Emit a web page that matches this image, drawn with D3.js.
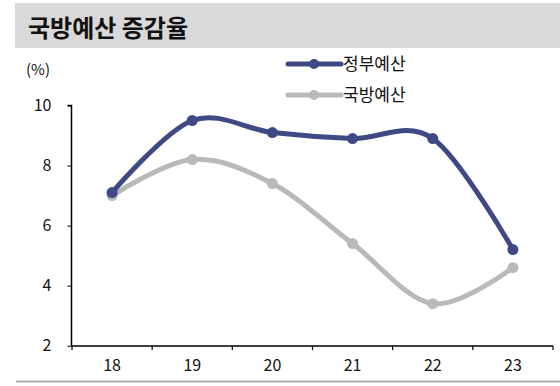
<!DOCTYPE html>
<html><head><meta charset="utf-8">
<script src="https://cdn.jsdelivr.net/npm/d3@7"></script>
<style>body{margin:0;background:#fff}svg{display:block}</style>
</head><body><svg id="c" width="560" height="386"></svg>
<script>
const years = ["18","19","20","21","22","23"];
const govBudget = [7.1, 9.5, 9.1, 8.9, 8.9, 5.2];
const defBudget = [7.0, 8.2, 7.4, 5.4, 3.4, 4.6];
const yTicks = [2,4,6,8,10];
const seriesNames = ["정부예산","국방예산"];
const colors = ["#3f4984","#b9b9b9"];

const svg = d3.select("#c");
const font = "'Noto Sans CJK KR', 'Noto Sans', sans-serif";

svg.append("rect").attr("x",15).attr("y",3).attr("width",545).attr("height",45).attr("fill","#d9d9d9");
svg.append("text").attr("x",28).attr("y",37).attr("font-family",font).attr("font-weight","bold")
  .attr("font-size",24).attr("fill","#111").text("국방예산 증감율");
svg.append("line").attr("x1",16).attr("x2",560).attr("y1",381.5).attr("y2",381.5)
  .attr("stroke","#b0b0b0").attr("stroke-width",2);

const x = d3.scaleBand().domain(years).range([72,553]);
const y = d3.scaleLinear().domain([2,10]).range([345.7,105.5]);

const yAxis = svg.append("g").attr("transform","translate(71.5,0)")
  .call(d3.axisLeft(y).tickValues(yTicks).tickSize(4).tickPadding(16).tickFormat(d3.format("d")));
yAxis.select(".domain").attr("stroke","#000").attr("stroke-width",1.5).attr("d","M-4,105.5H0V345.7");
yAxis.selectAll("text").attr("font-family",font).attr("font-size",16).attr("fill","#111");

const xAxis = svg.append("g").attr("transform","translate(0,346)")
  .call(d3.axisBottom(x).tickSize(0).tickPadding(14));
xAxis.select(".domain").attr("stroke","#000").attr("stroke-width",1.5).attr("d","M71.5,0H553");
xAxis.selectAll("text").attr("font-family",font).attr("font-size",16).attr("fill","#111");
xAxis.append("g").selectAll("line").data(years.concat(["end"])).join("line")
  .attr("x1",(d,i)=>72+i*x.bandwidth()).attr("x2",(d,i)=>72+i*x.bandwidth())
  .attr("y1",0).attr("y2",4).attr("stroke","#000").attr("stroke-width",1.2);

svg.append("text").attr("x",26).attr("y",75).attr("font-family",font).attr("font-size",15)
  .attr("fill","#111").text("(%)");

const cx = d => x(d) + x.bandwidth()/2;
const line = d3.line().curve(d3.curveCardinal.tension(0));
[defBudget, govBudget].forEach((vals, k) => {
  const idx = k===0 ? 1 : 0;
  const pts = years.map((yr,i)=>[cx(yr), y(vals[i])]);
  svg.append("path").attr("d",line(pts)).attr("fill","none").attr("stroke",colors[idx])
    .attr("stroke-width",5).attr("stroke-linecap","round");
  svg.append("g").selectAll("circle").data(pts).join("circle")
    .attr("cx",d=>d[0]).attr("cy",d=>d[1]).attr("r",5.5).attr("fill",colors[idx]);
});

const legY = [64, 95];
seriesNames.forEach((n,i)=>{
  svg.append("line").attr("x1",288).attr("x2",341).attr("y1",legY[i]).attr("y2",legY[i])
    .attr("stroke",colors[i]).attr("stroke-width",5).attr("stroke-linecap","round");
  svg.append("circle").attr("cx",314).attr("cy",legY[i]).attr("r",5).attr("fill",colors[i]);
  svg.append("text").attr("x",343).attr("y",legY[i]+6).attr("font-family",font).attr("font-size",17)
    .attr("fill","#111").text(n);
});
</script></body></html>
